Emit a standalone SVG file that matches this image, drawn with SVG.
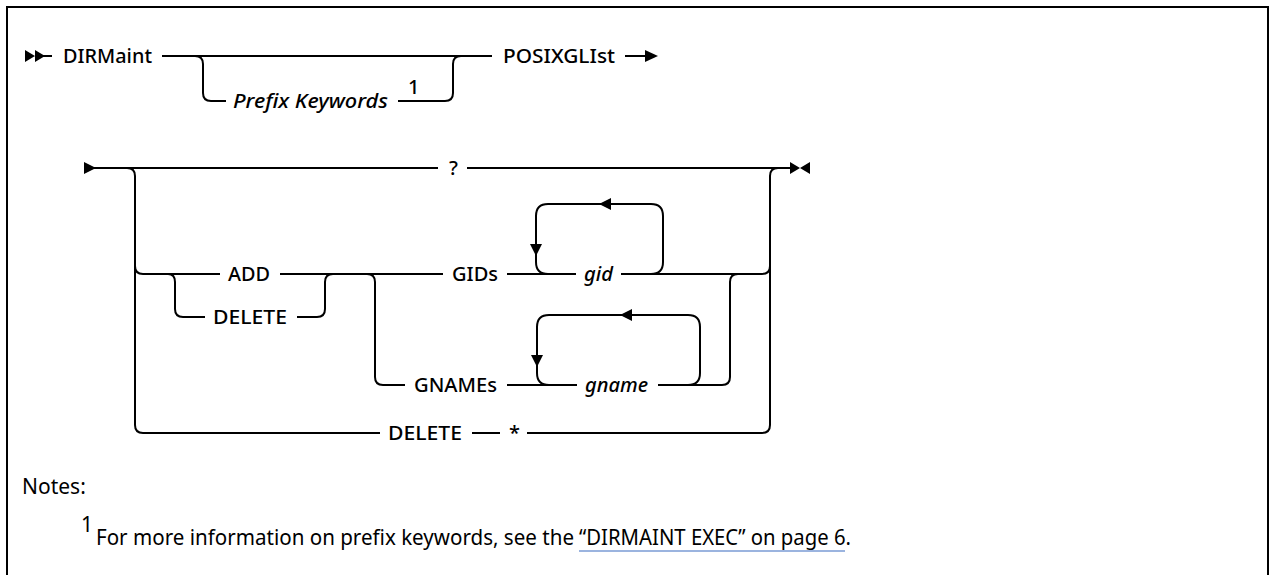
<svg xmlns="http://www.w3.org/2000/svg" width="1274" height="575" viewBox="0 0 1274 575">
<style>
.ln{fill:none;stroke:#000;stroke-width:2}
.ah{fill:#000;stroke:none}
.lb{font-family:"Noto Sans","Liberation Sans",sans-serif;font-size:20px;font-weight:500;fill:#000}
.it{font-style:italic}
.nt{font-family:"Noto Sans","Liberation Sans",sans-serif;font-size:21px;fill:#000}
</style>
<rect width="1274" height="575" fill="#fff"/>
<path class="ln" d="M7,575 V7 H1268 V575"/>
<g id="connectors">
  <path class="ah" d="M25,50 L35,56 L25,62 Z M35,50 L45,56 L35,62 Z"/>
  <path class="ln" d="M35,56 H52"/>
  <path class="ln" d="M162,56 H492"/>
  <path class="ln" d="M195,56 Q203,56 203,64 V93 Q203,101 211,101 H226"/>
  <path class="ln" d="M398,101 H445 Q453,101 453,93 V64 Q453,56 461,56"/>
  <path class="ln" d="M625,56 H648"/>
  <path class="ah" d="M645,50 L658,56 L645,62 Z"/>
  <path class="ah" d="M84,162 L96,168 L84,174 Z"/>
  <path class="ln" d="M94,168 H438"/>
  <path class="ln" d="M467,168 H792"/>
  <path class="ah" d="M790,162 L800,168 L790,174 Z M810,162 L800,168 L810,174 Z"/>
  <path class="ln" d="M127,168 Q135,168 135,176 V425 Q135,433 143,433 H380"/>
  <path class="ln" d="M135,266 Q135,274 143,274 H220"/>
  <path class="ln" d="M168,274 Q175,274 175,282 V309 Q175,317 183,317 H205"/>
  <path class="ln" d="M297,317 H317 Q325,317 325,309 V282 Q325,274 333,274"/>
  <path class="ln" d="M280,274 H443"/>
  <path class="ln" d="M367,274 Q375,274 375,282 V377 Q375,385 383,385 H405"/>
  <path class="ln" d="M507,274 H576"/>
  <path class="ln" d="M621,274 H762 Q770,274 770,266"/>
  <path class="ln" d="M548,274 Q536,274 536,262 V216 Q536,204 548,204 H651 Q663,204 663,216 V262 Q663,274 651,274"/>
  <path class="ah" d="M599,204 L611,198 L611,210 Z"/>
  <path class="ah" d="M530,244 L542,244 L536,256 Z"/>
  <path class="ln" d="M507,385 H577"/>
  <path class="ln" d="M658,385 H722 Q730,385 730,377 V282 Q730,274 738,274"/>
  <path class="ln" d="M549,385 Q537,385 537,373 V327 Q537,315 549,315 H688 Q700,315 700,327 V373 Q700,385 688,385"/>
  <path class="ah" d="M620,315 L632,309 L632,321 Z"/>
  <path class="ah" d="M531,355 L543,355 L537,367 Z"/>
  <path class="ln" d="M472,433 H500"/>
  <path class="ln" d="M527,433 H762 Q770,433 770,425 V176 Q770,168 778,168"/>
</g>
<g id="n-dirmaint"><text class="lb" x="63" y="63" textLength="89" lengthAdjust="spacingAndGlyphs">DIRMaint</text></g>
<g id="n-prefix"><text class="lb it" x="233" y="108" textLength="155" lengthAdjust="spacingAndGlyphs">Prefix Keywords</text><text class="lb" x="408" y="94" font-size="18">1</text></g>
<g id="n-posix"><text class="lb" x="503" y="63" textLength="112" lengthAdjust="spacingAndGlyphs">POSIXGLIst</text></g>
<g id="n-q"><text class="lb" x="449" y="175">?</text></g>
<g id="n-add"><text class="lb" x="228" y="281" textLength="42" lengthAdjust="spacingAndGlyphs">ADD</text></g>
<g id="n-delete1"><text class="lb" x="213" y="324" textLength="74" lengthAdjust="spacingAndGlyphs">DELETE</text></g>
<g id="n-gids"><text class="lb" x="452" y="281" textLength="46" lengthAdjust="spacingAndGlyphs">GIDs</text></g>
<g id="n-gid"><text class="lb it" x="584" y="281" textLength="29" lengthAdjust="spacingAndGlyphs">gid</text></g>
<g id="n-gnames"><text class="lb" x="414" y="392" textLength="83" lengthAdjust="spacingAndGlyphs">GNAMEs</text></g>
<g id="n-gname"><text class="lb it" x="585" y="392" textLength="63" lengthAdjust="spacingAndGlyphs">gname</text></g>
<g id="n-delete2"><text class="lb" x="388" y="440" textLength="74" lengthAdjust="spacingAndGlyphs">DELETE</text></g>
<g id="n-star"><text class="lb" x="509" y="440">*</text></g>
<g id="notes">
  <text class="nt" x="22" y="494">Notes:</text>
  <text class="nt" x="81" y="532" font-size="14">1</text>
  <text class="nt" x="96" y="545" textLength="478" lengthAdjust="spacingAndGlyphs">For more information on prefix keywords, see the</text>
  <text class="nt" x="579" y="545" textLength="272" lengthAdjust="spacingAndGlyphs">“DIRMAINT EXEC” on page 6.</text>
  <path d="M579,551 H845" fill="none" stroke="#7a9bd4" stroke-width="1.5"/>
</g>
</svg>
